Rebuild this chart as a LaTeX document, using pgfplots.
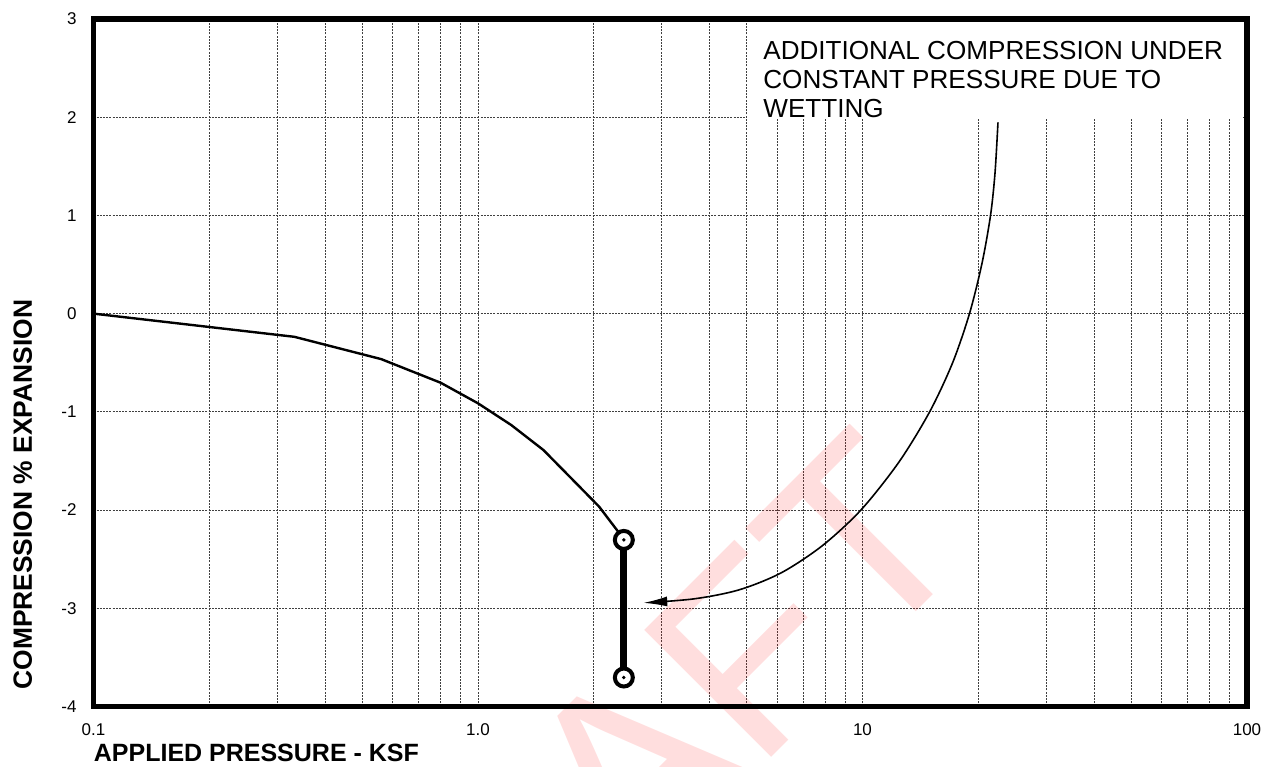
\documentclass[border=0pt]{standalone}
\usepackage{pgfplots}
\pgfplotsset{compat=1.18}
\usepackage{fontspec}
\setmainfont{Liberation Sans}
\usetikzlibrary{arrows.meta}
\begin{document}
\begin{tikzpicture}
\begin{axis}[
  name=ax, scale only axis, width=576.75pt, height=343.75pt,
  xmode=log, xmin=0.1, xmax=100, ymin=-4, ymax=3,
  xtick={0.1,1,10,100}, xticklabels={0.1,1.0,10,100},
  minor xtick={0.2,0.3,0.4,0.5,0.6,0.7,0.8,0.9,2,3,4,5,6,7,8,9,20,30,40,50,60,70,80,90},
  ytick={-4,-3,-2,-1,0,1,2,3}, yticklabels={-4,-3,-2,-1,0,1,2,3},
  xmajorgrids, xminorgrids, ymajorgrids,
  grid style={black!75, line width=0.35pt, dash pattern=on 1pt off 0.6pt},
  minor grid style={black!75, line width=0.35pt, dash pattern=on 1pt off 0.6pt},
  major tick length=0pt, minor tick length=0pt,
  axis line style={draw=none},
  tick label style={font=\fontsize{8.5}{10}\selectfont, inner sep=0pt},
  xticklabel style={anchor=north, yshift=-8.25pt},
  yticklabel style={anchor=east, xshift=-8.25pt},
  clip mode=individual,
]
% watermark
\node[rotate=45, anchor=base west, inner sep=0pt, text=red, text opacity=0.13,
  font=\fontsize{130.5}{130.5}\selectfont, overlay] at (axis cs:0.512,-8.64) {DRAFT};
% annotation box
\fill[white] (axis cs:5.02,1.98) rectangle (axis cs:97.7,2.975);
\node[anchor=base west, inner sep=0pt, font=\fontsize{13.05}{15}\selectfont] at (axis cs:5.51,2.59) {ADDITIONAL COMPRESSION UNDER};
\node[anchor=base west, inner sep=0pt, font=\fontsize{13.05}{15}\selectfont] at (axis cs:5.51,2.295) {CONSTANT PRESSURE DUE TO};
\node[anchor=base west, inner sep=0pt, font=\fontsize{13.05}{15}\selectfont] at (axis cs:5.51,2.0) {WETTING};
% main curve
\addplot[black, line width=1.2pt, line join=round] coordinates {
  (0.1,0) (0.333,-0.236) (0.56,-0.463) (0.80,-0.704) (1.0,-0.913)
  (1.22,-1.134) (1.48,-1.389) (1.80,-1.727) (2.065,-1.965) (2.315,-2.22) (2.395,-2.304)};
% arrow
\addplot[black, line width=0.8pt, smooth, -{Latex[length=12pt,width=5pt]}] coordinates {
  (22.51,1.948) (22.11,1.429) (21.53,1.002) (20.46,0.514) (18.98,0.0) (17.14,-0.504)
  (14.94,-1.002) (12.44,-1.511) (9.91,-1.999) (7.85,-2.365) (6.14,-2.640) (4.77,-2.813)
  (3.65,-2.904) (2.69,-2.945)};
% wetting bar
\addplot[black, line width=3.5pt] coordinates {(2.395,-2.304) (2.395,-3.705)};
\addplot[only marks, mark=*, mark size=4.5pt, mark options={fill=white, draw=black, line width=2pt}]
  coordinates {(2.395,-2.304) (2.395,-3.705)};
\addplot[only marks, mark=*, mark size=0.65pt, black]
  coordinates {(2.395,-2.304) (2.395,-3.705)};
% frame
\draw[line width=2.75pt, line join=miter] (rel axis cs:0,0) rectangle (rel axis cs:1,1);
% labels
\node[anchor=base west, inner sep=0pt, font=\bfseries\fontsize{12.5}{15}\selectfont]
  at ([yshift=-27.75pt]rel axis cs:0,0) {APPLIED PRESSURE - KSF};
\node[rotate=90, anchor=base west, inner sep=0pt, font=\bfseries\fontsize{13.2}{15}\selectfont]
  at ([xshift=-30.75pt, yshift=8.25pt]rel axis cs:0,0) {COMPRESSION \% EXPANSION};
\end{axis}
\pgfresetboundingbox
\useasboundingbox ([xshift=-46.75pt,yshift=-30.25pt]ax.south west) rectangle ([xshift=11pt,yshift=9.5pt]ax.north east);
\end{tikzpicture}
\end{document}
